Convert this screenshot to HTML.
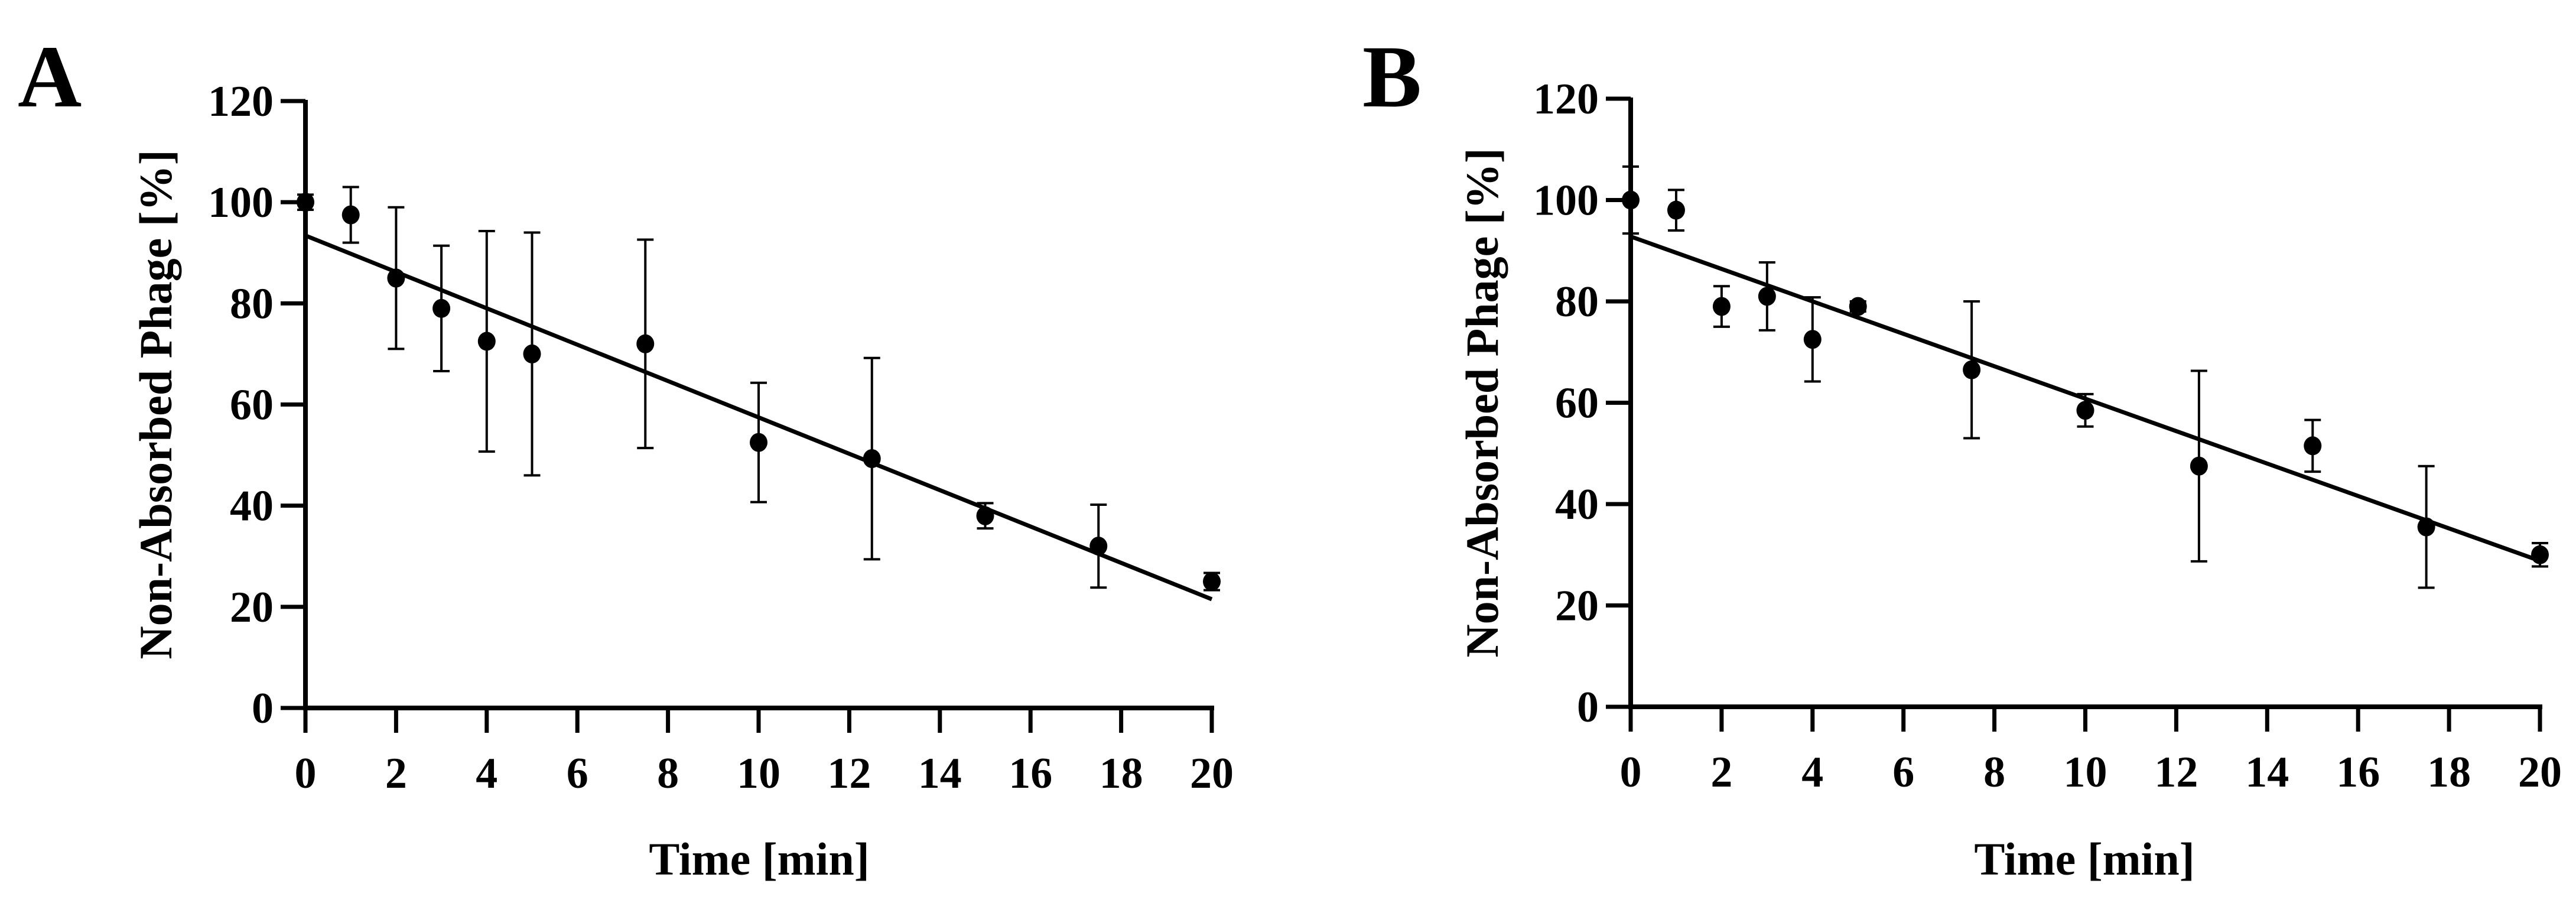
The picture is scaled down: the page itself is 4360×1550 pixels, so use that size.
<!DOCTYPE html>
<html><head><meta charset="utf-8"><style>
html,body{margin:0;padding:0;background:#fff;}
svg{display:block;}
text{font-family:"Liberation Serif",serif;font-weight:bold;fill:#000;}
</style></head><body>
<svg id="fig" width="4360" height="1550" viewBox="0 0 4360 1550" xmlns="http://www.w3.org/2000/svg"></svg>
<script>
const xTicks = [0,2,4,6,8,10,12,14,16,18,20];
const yTicks = [0,20,40,60,80,100,120];
const timesA = [0,1,2,3,4,5,7.5,10,12.5,15,17.5,20];
const meansA = [100,97.5,85,79,72.5,70,72,52.5,49.3,38,32,25];
const errsA = [1.5,5.5,14,12.4,21.8,24,20.6,11.8,19.9,2.5,8.2,1.7];
const fitA = [93.4,21.5];
const timesB = [0,1,2,3,4,5,7.5,10,12.5,15,17.5,20];
const meansB = [100,98,79,81,72.5,79,66.5,58.5,47.5,51.5,35.5,30];
const errsB = [6.6,4,4,6.7,8.3,1,13.5,3.2,18.8,5.1,12,2.3];
const fitB = [92.8,28.8];

const NS="http://www.w3.org/2000/svg";
const svg=document.getElementById('fig');
function mk(tag,attrs,parent,txt){const e=document.createElementNS(NS,tag);for(const k in attrs)e.setAttribute(k,attrs[k]);if(txt!==undefined)e.textContent=txt;(parent||svg).appendChild(e);return e;}

function panel(id,letter,letterX,x0,x1,y0,y120,ylabX,xlabX,times,means,errs,fit){
  const g=mk('g',{});
  
  
  const sx=v=>x0+(x1-x0)*v/20;
  const sy=v=>y0+(y120-y0)*v/120;
  const L=mk('text',{x:letterX,y:180,'font-size':150},g,letter);
  
  
  // axes
  const ya=mk('line',{x1:x0,y1:y120-2,x2:x0,y2:y0+4,stroke:'#000','stroke-width':8},g);
  
  
  const xa=mk('line',{x1:x0-4,y1:y0,x2:x1+4,y2:y0,stroke:'#000','stroke-width':8},g);
  
  
  yTicks.forEach(t=>{
    const tk=mk('line',{x1:x0-42,y1:sy(t),x2:x0,y2:sy(t),stroke:'#000','stroke-width':7},g);
    
    
    const tl=mk('text',{x:x0-54,y:sy(t)+25,'font-size':74,'text-anchor':'end'},g,String(t));
    
    
  });
  xTicks.forEach(t=>{
    const tk=mk('line',{x1:sx(t),y1:y0,x2:sx(t),y2:y0+42,stroke:'#000','stroke-width':7},g);
    
    
    const tl=mk('text',{x:sx(t),y:y0+135,'font-size':74,'text-anchor':'middle'},g,String(t));
    
    
  });
  const xt=mk('text',{x:xlabX,y:1480,'font-size':78,'text-anchor':'middle'},g,'Time [min]');
  
  
  const yt=mk('text',{x:0,y:0,'font-size':78,'text-anchor':'middle',transform:`translate(${ylabX},${(y0+y120)/2}) rotate(-90)`},g,'Non-Absorbed Phage [%]');
  
  
  // fit line
  const fl=mk('line',{x1:sx(0),y1:sy(fit[0]),x2:sx(20),y2:sy(fit[1]),stroke:'#000','stroke-width':7},g);
  
  
  times.forEach((t,i)=>{
    const cx=sx(t),top=sy(means[i]+errs[i]),bot=sy(means[i]-errs[i]);
    const eb=mk('path',{d:`M${cx},${top}V${bot}M${cx-14},${top}H${cx+14}M${cx-14},${bot}H${cx+14}`,stroke:'#000','stroke-width':4,fill:'none'},g);
    
    
    const p=mk('ellipse',{cx:cx,cy:sy(means[i]),rx:15,ry:16,fill:'#000'},g);
    
    
  });
}
panel('a','A',30,517,2051,1198,171,290,1285,timesA,meansA,errsA,fitA);
panel('b','B',2306,2760,4299,1196,167,2535,3528,timesB,meansB,errsB,fitB);
</script>
</body></html>
